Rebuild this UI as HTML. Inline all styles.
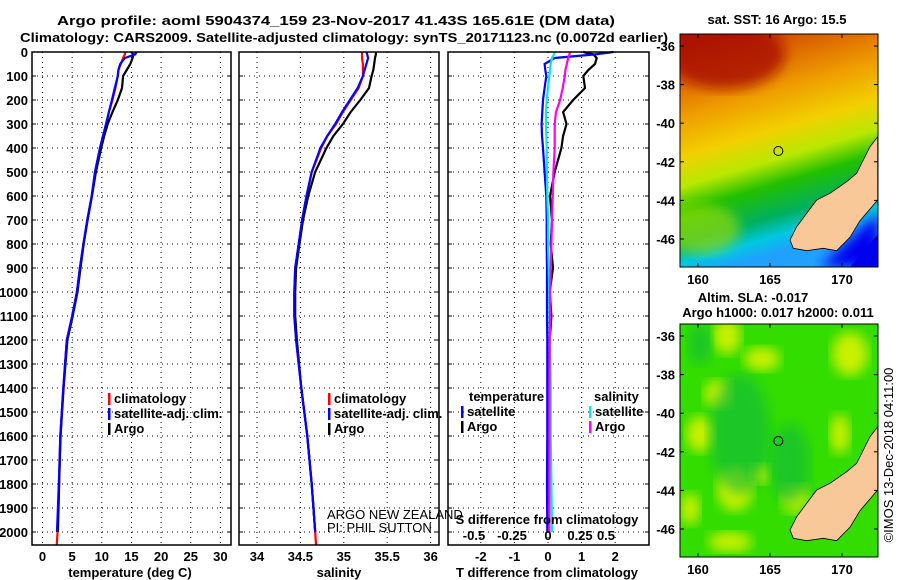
<!DOCTYPE html>
<html><head><meta charset="utf-8"><style>
html,body{margin:0;padding:0;background:#fff;}
svg{display:block;font-family:"Liberation Sans",sans-serif;}
.b{font-weight:bold;font-size:13px;fill:#000;}
</style></head><body>
<svg id="fig" width="900" height="580" viewBox="0 0 900 580" xmlns="http://www.w3.org/2000/svg">
<defs>
<linearGradient id="sstg" x1="0" y1="0" x2="0.25" y2="1">
<stop offset="0" stop-color="#b01800"/><stop offset="0.15" stop-color="#d85a00"/><stop offset="0.35" stop-color="#f0a000"/><stop offset="0.5" stop-color="#f2d000"/><stop offset="0.62" stop-color="#b8e800"/><stop offset="0.72" stop-color="#22c000"/><stop offset="0.85" stop-color="#00b060"/><stop offset="0.93" stop-color="#00c8e0"/><stop offset="1" stop-color="#20a0ff"/>
</linearGradient>
<filter id="blur"><feGaussianBlur stdDeviation="6"/></filter>
<clipPath id="c1"><rect x="680" y="34" width="198" height="233"/></clipPath>
<clipPath id="c2"><rect x="680" y="324" width="198" height="233"/></clipPath>
</defs>
<text class="b" x="57" y="25" textLength="558" lengthAdjust="spacingAndGlyphs">Argo profile: aoml 5904374_159 23-Nov-2017 41.43S 165.61E (DM data)</text>
<text class="b" x="20" y="42" textLength="648" lengthAdjust="spacingAndGlyphs">Climatology: CARS2009. Satellite-adjusted climatology: synTS_20171123.nc (0.0072d earlier)</text>
<g id="plots"></g>
</svg>
<script>
// depth levels (m)
const depths=[0,10,25,50,75,100,150,200,250,300,350,400,500,600,700,800,900,1000,1100,1200,1400,1600,1800,2000,2054];
const tempClim=[13.9,13.9,13.6,13.2,12.8,12.7,12.3,11.8,11.2,10.8,10.2,9.7,8.85,8.3,7.55,6.9,6.3,5.8,5.0,4.1,3.5,3.0,2.8,2.55,2.4];
const tempSat=[15.9,15.6,13.9,13.1,12.8,12.7,12.2,11.7,11.2,10.7,10.2,9.7,8.85,8.3,7.55,6.9,6.3,5.8,5.0,4.1,3.5,3.0,2.75,2.45,2.4];
const tempArgo=[15.0,15.3,15.2,14.8,14.2,13.6,13.4,12.7,11.8,11.0,10.4,9.9,9.0,8.35,7.6,6.95,6.4,5.9,5.1,4.2,3.55,3.05,2.8,2.6,2.6];
const salClim=[35.21,35.21,35.21,35.22,35.22,35.22,35.17,35.08,34.99,34.91,34.81,34.74,34.63,34.57,34.52,34.48,34.44,34.43,34.43,34.45,34.51,34.58,34.63,34.67,34.68];
const salSat=[35.26,35.27,35.28,35.26,35.24,35.22,35.16,35.07,34.98,34.9,34.81,34.73,34.63,34.57,34.52,34.48,34.44,34.43,34.43,34.45,34.51,34.58,34.63,34.67,34.68];
const salArgo=[35.37,35.37,35.36,35.35,35.34,35.32,35.29,35.19,35.08,34.99,34.88,34.8,34.67,34.59,34.53,34.49,34.45,34.44,34.44,34.46,34.51,34.58,34.63,34.67,34.68];
const dTSat=[1.95,1.4,0.2,-0.1,-0.08,-0.05,-0.1,-0.15,-0.17,-0.19,-0.18,-0.15,-0.1,-0.05,-0.04,-0.04,-0.03,-0.03,-0.03,-0.02,-0.02,-0.02,-0.03,-0.02,-0.02];
const dTArgo=[1.05,1.35,1.45,1.4,1.2,1.05,1.1,0.75,0.45,0.55,0.45,0.4,0.2,0.06,0.12,0.08,0.15,0.05,0.1,0.05,0.02,0.03,0.02,0.03,0.03];
const dSSat=[0.05,0.045,0.03,0.02,0.015,0.01,0,-0.01,-0.015,-0.015,-0.012,-0.01,-0.008,-0.005,0,0,0.005,0.01,0.01,0.015,0.02,0.02,0.025,0.03,0.03];
const dSArgo=[0.165,0.16,0.15,0.14,0.13,0.125,0.11,0.09,0.06,0.05,0.05,0.05,0.04,0.035,0.03,0.025,0.02,0.015,0.015,0.012,0.01,0.01,0.01,0.01,0.01];
const depthTicks=[0,100,200,300,400,500,600,700,800,900,1000,1100,1200,1300,1400,1500,1600,1700,1800,1900,2000];
const tempTicks=[0,5,10,15,20,25,30];
const salTicks=[34,34.5,35,35.5,36];
const dTTicks=[-2,-1,0,1,2];
const dSTicks=[-0.5,-0.25,0,0.25,0.5];
const latTicks=[-36,-38,-40,-42,-44,-46];
const lonTicks=[160,165,170];

const NS='http://www.w3.org/2000/svg';
const G=document.getElementById('plots');
function mk(tag,attrs,parent,txt){const e=document.createElementNS(NS,tag);for(const k in attrs)e.setAttribute(k,attrs[k]);if(txt!==undefined)e.textContent=txt;(parent||G).appendChild(e);return e;}
const yD=d=>52+d*0.24;
const xT=t=>42.5+t*5.93;
const xS=s=>257+(s-34)*86.8;
const xDT=t=>548+t*33.6;
const xDS=s=>548+s*134;
const TOP=52,BOT=545;

function panel(name,x0,x1,xTicksArr,xf,label,labelX){
  const g=mk('g',{});
  
  
  depthTicks.forEach(d=>{if(d>0)mk('line',{x1:x0,x2:x1,y1:yD(d),y2:yD(d),stroke:'#000','stroke-width':1,'stroke-dasharray':'1,4'},g);});
  xTicksArr.forEach(v=>{const x=xf(v);mk('line',{x1:x,x2:x,y1:TOP,y2:BOT,stroke:'#000','stroke-width':1,'stroke-dasharray':'1,4'},g);
    const t=mk('text',{x:x,y:561,'text-anchor':'middle',class:'b'},g,String(v));});
  const lab=mk('text',{x:labelX,y:577,'text-anchor':'middle',class:'b'},g,label);
  
  
  return g;
}
function line(g,xs,xf,color,name,maxD){
  const pts=[];for(let i=0;i<depths.length;i++){if(maxD!==undefined&&depths[i]>maxD)break;pts.push(xf(xs[i]).toFixed(1)+','+yD(depths[i]).toFixed(1));}
  const p=mk('polyline',{points:pts.join(' '),fill:'none',stroke:color,'stroke-width':2.2},g);
  
  
}
function frame(g,x0,x1){mk('rect',{x:x0,y:TOP,width:x1-x0,height:BOT-TOP,fill:'none',stroke:'#000','stroke-width':1.5},g);}
function legend(g,x,y,items){items.forEach((it,i)=>{mk('rect',{x:x,y:y+i*15-10,width:2.5,height:12,fill:it[0]},g);
  const t=mk('text',{x:x+6,y:y+i*15,class:'b'},g,it[1]);});}

// depth tick labels
depthTicks.forEach(d=>{const t=mk('text',{x:28,y:yD(d)+5,'text-anchor':'end',class:'b'},G,String(d));
  
  [[32,36],[227,231],[239,243],[435,439],[448,452],[645,649]].forEach(a=>mk('line',{x1:a[0],x2:a[1],y1:yD(d),y2:yD(d),stroke:'#000'}));});

// panel 1 temperature
const g1=panel('temperature-panel',32,231,tempTicks,xT,'temperature (deg C)',130);
line(g1,tempClim,xT,'#ff0000','climatology-temp-line');
line(g1,tempArgo,xT,'#000','argo-temp-line',2000);
line(g1,tempSat,xT,'#0000ff','satellite-temp-line',2000);
frame(g1,32,231);
legend(g1,108,403,[['#f00','climatology'],['#00f','satellite-adj. clim.'],['#000','Argo']]);

// panel 2 salinity
const g2=panel('salinity-panel',239,439,salTicks,xS,'salinity',339);
line(g2,salClim,xS,'#ff0000','climatology-sal-line');
line(g2,salArgo,xS,'#000','argo-sal-line',2000);
line(g2,salSat,xS,'#0000ff','satellite-sal-line',2000);
frame(g2,239,439);
legend(g2,328,403,[['#f00','climatology'],['#00f','satellite-adj. clim.'],['#000','Argo']]);
mk('text',{x:327,y:519,'font-size':13,fill:'#000'},g2,'ARGO NEW ZEALAND');
mk('text',{x:327,y:532,'font-size':13,fill:'#000'},g2,'PI: PHIL SUTTON');

// panel 3 differences
const g3=panel('difference-panel',448,649,dTTicks,xDT,'T difference from climatology',547);
line(g3,dTArgo,xDT,'#000','argo-t-diff-line',2000);
line(g3,dTSat,xDT,'#0000ff','satellite-t-diff-line',2000);
line(g3,dSSat,xDS,'#00e8e8','satellite-s-diff-line',2000);
line(g3,dSArgo,xDS,'#ff00ff','argo-s-diff-line',2000);
frame(g3,448,649);
mk('text',{x:469,y:401,class:'b'},g3,'temperature');
mk('text',{x:594,y:401,class:'b'},g3,'salinity');
legend(g3,461,416,[['#00f','satellite'],['#000','Argo']]);
legend(g3,589,416,[['#0ee','satellite'],['#f0f','Argo']]);
mk('text',{x:547,y:524,'text-anchor':'middle',class:'b'},g3,'S difference from climatology');
dSTicks.forEach(v=>{const t=mk('text',{x:[474,512,548,580,606][dSTicks.indexOf(v)],y:540,'text-anchor':'middle',class:'b'},g3,String(v).replace('0.','0.').replace(/^(-?)0\./,'$1.').replace(/^(-?)\./,'$10.'));});

// maps
const xLon=l=>698+(l-160)*14.4;
const yLat=(l,y0)=>y0+(-36-l)*19.3;
const land=[[683,410],[660,440],[640,480],[620,520],[590,545],[540,580],[500,600],[470,640],[440,680],[420,720],[430,745],[470,752],[520,745],[560,752],[600,712],[630,662],[683,600]];
function map(name,y0,top,title){
  const g=mk('g',{});
  
  
  const cg=mk('g',{'clip-path':'url(#'+(top?'c1':'c2')+')'},g);
  if(top){
    mk('rect',{x:680,y:y0,width:198,height:233,fill:'url(#sstg)'},cg);
    mk('ellipse',{cx:725,cy:y0+20,rx:60,ry:35,fill:'#a81000',filter:'url(#blur)',opacity:0.8},cg);
    mk('ellipse',{cx:700,cy:y0+195,rx:40,ry:25,fill:'#a8e000',filter:'url(#blur)',opacity:0.6},cg);
    mk('path',{d:'M820 '+(y0+233)+' L878 '+(y0+180)+' L878 '+(y0+233)+' Z',fill:'#0000ee',filter:'url(#blur)'},cg);
    mk('path',{d:'M850 '+(y0+233)+' L878 '+(y0+200)+' L878 '+(y0+233)+' Z',fill:'#0000ee'},cg);
  } else {
    mk('rect',{x:680,y:y0,width:198,height:233,fill:'#33dd00'},cg);
    [[727,12,14,18],[762,35,18,12],[718,70,14,14],[850,30,18,22],[760,150,10,10],[700,110,14,18],[735,165,18,22],[795,175,14,14],[730,218,22,10],[840,110,10,20],[690,185,10,16]].forEach(e=>mk('ellipse',{cx:e[0],cy:y0+e[1],rx:e[2],ry:e[3],fill:'#c8f000',filter:'url(#blur)'},cg));
    [[700,20,12,20],[740,110,30,60],[790,140,20,40]].forEach(e=>mk('ellipse',{cx:e[0],cy:y0+e[1],rx:e[2],ry:e[3],fill:'#10b840',filter:'url(#blur)',opacity:0.6},cg));
  }
  const pts=land.map(p=>(650+p[0]/3).toFixed(1)+','+(y0-34+p[1]/3).toFixed(1)).join(' ');
  const l=mk('polygon',{points:pts,fill:'#f8c898',stroke:'#000','stroke-width':0.8},cg);
  
  
  mk('circle',{cx:650+385/3,cy:y0-34+453/3,r:4.5,fill:'none',stroke:'#000','stroke-width':1},g);
  mk('rect',{x:680,y:y0,width:198,height:233,fill:'none',stroke:'#000','stroke-width':1},g);
  latTicks.forEach(v=>{const y=yLat(v,y0+12);mk('line',{x1:680,x2:684,y1:y,y2:y,stroke:'#000'},g);mk('line',{x1:874,x2:878,y1:y,y2:y,stroke:'#000'},g);
    const t=mk('text',{x:675,y:y+5,'text-anchor':'end',class:'b'},g,String(v));});
  lonTicks.forEach(v=>{const x=xLon(v);mk('line',{x1:x,x2:x,y1:y0,y2:y0+4,stroke:'#000'},g);mk('line',{x1:x,x2:x,y1:y0+229,y2:y0+233,stroke:'#000'},g);
    const t=mk('text',{x:x,y:y0+250,'text-anchor':'middle',class:'b'},g,String(v));});
  title.forEach((tt,i)=>{const t=mk('text',{x:tt[1],y:tt[2],'text-anchor':'middle',class:'b'},g,tt[0]);});
}
map('sst-map',34,true,[['sat. SST: 16 Argo: 15.5',777,24]]);
map('sla-map',324,false,[['Altim. SLA: -0.017',753,302],['Argo h1000: 0.017 h2000: 0.011',778,317]]);
const cr=mk('text',{x:0,y:0,'font-size':13,fill:'#000','text-anchor':'middle',transform:'translate(893,455) rotate(-90)'},G,'©IMOS 13-Dec-2018 04:11:00');


</script>
</body></html>
